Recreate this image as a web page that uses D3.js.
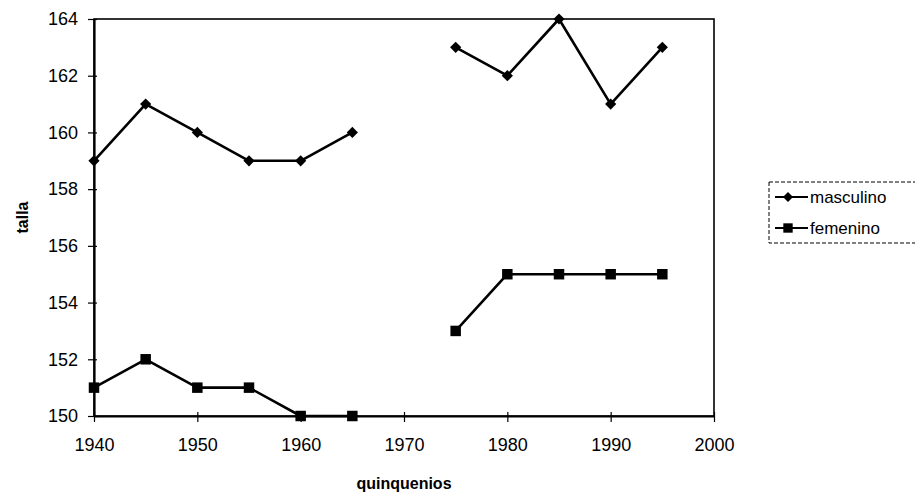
<!DOCTYPE html>
<html>
<head>
<meta charset="utf-8">
<script src="https://cdn.jsdelivr.net/npm/d3@7"></script>
<style>
  html, body { margin: 0; padding: 0; background: #fff; }
  svg { display: block; }
  text { font-family: Arial, "Liberation Sans", Helvetica, sans-serif; fill: #000; }
</style>
</head>
<body>
<svg id="chart" width="915" height="499"></svg>
<script>
const years = [1940, 1945, 1950, 1955, 1960, 1965, 1970, 1975, 1980, 1985, 1990, 1995];
const masculino = [159, 161, 160, 159, 159, 160, null, 163, 162, 164, 161, 163];
const femenino  = [151, 152, 151, 151, 150, 150, null, 153, 155, 155, 155, 155];
const xTicks = [1940, 1950, 1960, 1970, 1980, 1990, 2000];
const yTicks = [150, 152, 154, 156, 158, 160, 162, 164];
const seriesNames = ["masculino", "femenino"];

const svg = d3.select("#chart");
const m = { left: 94, right: 714, top: 19, bottom: 416 };

const x = d3.scaleLinear().domain([1940, 2000]).range([m.left, m.right]);
const y = d3.scaleLinear().domain([150, 164]).range([m.bottom, m.top]);

// plot frame
svg.append("rect")
  .attr("x", m.left).attr("y", m.top)
  .attr("width", m.right - m.left).attr("height", m.bottom - m.top)
  .attr("fill", "#fff").attr("stroke", "#000").attr("stroke-width", 1.6);

// axes
const yAxis = d3.axisLeft(y).tickValues(yTicks).tickSizeInner(6).tickSizeOuter(0).tickPadding(10);
const gy = svg.append("g").attr("transform", `translate(${m.left},0)`).call(yAxis);
gy.selectAll(".tick line").attr("x2", 3).attr("x1", -6).attr("stroke-width", 1.2);
gy.select(".domain").attr("stroke-width", 2.2);
gy.selectAll("text").attr("font-size", 18).attr("font-family", "Arial, 'Liberation Sans', sans-serif");

const xAxis = d3.axisBottom(x).tickValues(xTicks).tickFormat(d3.format("d")).tickSizeInner(6).tickSizeOuter(0).tickPadding(16);
const gx = svg.append("g").attr("transform", `translate(0,${m.bottom})`).call(xAxis);
gx.selectAll(".tick line").attr("y1", -4).attr("y2", 6).attr("stroke-width", 1.2);
gx.select(".domain").attr("stroke-width", 2.2);
gx.selectAll("text").attr("font-size", 18).attr("font-family", "Arial, 'Liberation Sans', sans-serif");

// axis titles
svg.append("text")
  .attr("transform", `translate(28,${(m.top + m.bottom) / 2}) rotate(-90)`)
  .attr("text-anchor", "middle")
  .attr("font-size", 16).attr("font-weight", "bold")
  .text("talla");
svg.append("text")
  .attr("x", (m.left + m.right) / 2).attr("y", 489)
  .attr("text-anchor", "middle")
  .attr("font-size", 16).attr("font-weight", "bold")
  .text("quinquenios");

// series
const line = d3.line()
  .defined(d => d.v !== null)
  .x(d => x(d.t)).y(d => y(d.v));

const seriesData = [
  { name: seriesNames[0], values: years.map((t, i) => ({ t, v: masculino[i] })), symbol: d3.symbolDiamond2, size: 80 },
  { name: seriesNames[1], values: years.map((t, i) => ({ t, v: femenino[i] })), symbol: d3.symbolSquare, size: 110 }
];

const plotG = svg.append("g");
seriesData.forEach(s => {
  plotG.append("path")
    .datum(s.values)
    .attr("fill", "none").attr("stroke", "#000").attr("stroke-width", 2.6)
    .attr("stroke-linejoin", "round")
    .attr("d", line);
  plotG.selectAll(null)
    .data(s.values.filter(d => d.v !== null))
    .enter().append("path")
    .attr("transform", d => `translate(${x(d.t)},${y(d.v)})`)
    .attr("d", d3.symbol().type(s.symbol).size(s.size))
    .attr("fill", "#000");
});

// legend
const lg = svg.append("g").attr("transform", "translate(769,182)");
lg.append("rect").attr("x", 0).attr("y", 0).attr("width", 160).attr("height", 61)
  .attr("fill", "#fff").attr("stroke", "#000").attr("stroke-width", 1).attr("stroke-dasharray", "4,2");
seriesData.forEach((s, i) => {
  const yy = 15 + i * 31;
  lg.append("line").attr("x1", 6).attr("x2", 39).attr("y1", yy).attr("y2", yy)
    .attr("stroke", "#000").attr("stroke-width", 2.2);
  lg.append("path").attr("transform", `translate(19,${yy})`)
    .attr("d", d3.symbol().type(s.symbol).size(s.size * 0.8)).attr("fill", "#000");
  lg.append("text").attr("x", 41).attr("y", yy + 6).attr("font-size", 17).text(s.name);
});
</script>
</body>
</html>
